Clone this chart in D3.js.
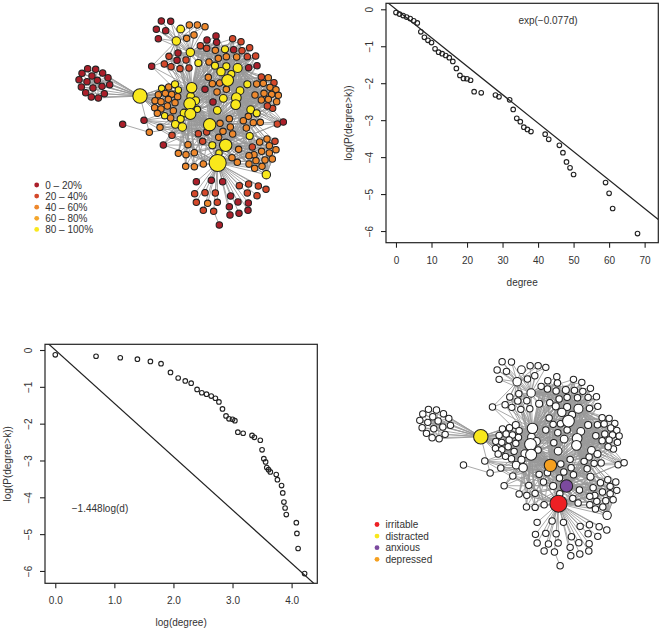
<!DOCTYPE html>
<html>
<head>
<meta charset="utf-8">
<style>
    body { margin: 0; background: #fff; }
    text { font-family: "Liberation Sans", Arial, sans-serif; fill: #333; }
</style>
<script src="https://cdn.jsdelivr.net/npm/d3@7"></script>
</head>
<body>
<div id="chart"></div>
<script>
// Degree distribution
const degree = [0, 1, 2, 3, 4, 5, 6, 7, 8, 9, 10, 11, 12, 13, 14, 15, 16, 17, 18, 19, 20, 21, 22, 24, 28, 29, 32, 33, 34, 35, 36, 37, 38, 42, 43, 46, 47, 48, 49, 50, 59, 60, 61, 68];
const logP = [-0.09, -0.13, -0.17, -0.21, -0.25, -0.31, -0.37, -0.61, -0.76, -0.84, -0.90, -1.07, -1.16, -1.20, -1.25, -1.31, -1.41, -1.60, -1.79, -1.87, -1.88, -1.92, -2.23, -2.26, -2.32, -2.37, -2.45, -2.71, -2.95, -3.04, -3.19, -3.25, -3.31, -3.38, -3.52, -3.68, -3.88, -4.13, -4.29, -4.47, -4.69, -4.98, -5.39, -6.07];
const logDegree = [0, 0.69, 1.10, 1.39, 1.61, 1.79, 1.95, 2.08, 2.20, 2.30, 2.40, 2.48, 2.56, 2.64, 2.71, 2.77, 2.83, 2.89, 2.94, 3.00, 3.04, 3.09, 3.18, 3.33, 3.37, 3.47, 3.50, 3.53, 3.56, 3.58, 3.61, 3.64, 3.74, 3.76, 3.83, 3.85, 3.87, 3.89, 3.91, 4.08, 4.09, 4.11, 4.22];
const expTicks = [0, 10, 20, 30, 40, 50, 60, 70];
const logTicks = [0, 1, 2, 3, 4];
const yTicks = [0, -1, -2, -3, -4, -5, -6];
const expSlope = -0.077;
const logSlope = -1.448;

// Network layout. Rows are [layoutX, layoutY, size, band]
const hubs = [
    [240, 288, 21, 4], [473, 489, 25, 4], [497, 436, 18, 4], [449, 374, 18, 4],
    [503, 241, 17, 4], [389, 311, 17, 4], [391, 342, 16, 4], [395, 263, 15, 4],
    [529, 293, 14, 4], [527, 314, 14, 4], [533, 204, 13, 4], [349, 123, 12, 4],
    [391, 157, 12, 4], [619, 524, 12, 4], [483, 215, 12, 4], [367, 381, 12, 4],
    [112, 241, 9, 0], [99, 264, 9, 0], [268, 397, 9, 2], [461, 634, 9, 1]
];
const leftCluster = [
    [83, 206, 9, 0], [66, 220, 9, 0], [57, 239, 9, 0], [64, 261, 9, 0], [77, 278, 9, 0], [94, 291, 9, 0],
    [115, 294, 9, 0], [133, 281, 9, 0], [149, 254, 9, 0], [144, 233, 9, 0], [128, 219, 9, 0], [107, 208, 9, 0],
    [96, 228, 9, 0], [81, 245, 9, 0], [126, 259, 9, 0]
];
const topOuter = [
    [304, 63, 9, 0], [332, 64, 9, 0], [289, 88, 9, 0], [317, 92, 9, 0], [295, 116, 9, 0], [362, 87, 11, 4],
    [388, 75, 9, 2], [412, 75, 9, 2], [435, 80, 9, 2], [380, 115, 9, 2], [402, 105, 9, 2]
];
const topLeft = [
    [354, 159, 9, 0], [327, 169, 9, 1], [351, 181, 9, 0], [378, 180, 9, 1], [313, 192, 9, 1], [275, 199, 9, 0],
    [333, 200, 9, 1], [360, 206, 9, 1], [387, 204, 9, 1], [415, 189, 10, 4]
];
const topRight = [
    [421, 137, 9, 1], [441, 120, 9, 0], [468, 108, 9, 0], [470, 127, 9, 0], [518, 116, 9, 1], [543, 125, 9, 1],
    [440, 145, 9, 1], [466, 151, 9, 2], [495, 148, 10, 4], [521, 149, 9, 0], [546, 152, 9, 1], [569, 143, 9, 1],
    [587, 168, 9, 1], [562, 170, 9, 1], [530, 171, 9, 2], [499, 170, 9, 2], [475, 175, 9, 2], [447, 186, 9, 2],
    [591, 197, 9, 0], [566, 203, 9, 0], [499, 199, 10, 4], [465, 197, 10, 4], [514, 222, 10, 4]
];
const middle = [
    [445, 232, 9, 2], [457, 251, 9, 2], [479, 249, 9, 2], [499, 268, 9, 2], [471, 276, 9, 2], [435, 268, 9, 0],
    [562, 253, 10, 4], [540, 272, 11, 4], [490, 295, 11, 4], [459, 306, 9, 0], [472, 331, 11, 4], [392, 289, 11, 4],
    [407, 302, 11, 4], [412, 328, 9, 4], [372, 339, 11, 4]
];
const leftOrange = [
    [305, 265, 9, 4], [326, 261, 9, 2], [345, 253, 10, 4], [295, 284, 9, 2], [316, 280, 9, 2], [335, 283, 9, 2],
    [355, 270, 9, 4], [353, 290, 9, 2], [285, 302, 9, 2], [303, 305, 9, 2], [325, 298, 9, 2], [345, 308, 9, 2],
    [284, 323, 9, 2], [303, 327, 9, 2], [322, 318, 9, 2], [340, 332, 9, 2], [292, 340, 9, 2], [314, 347, 9, 4],
    [332, 354, 9, 2], [362, 357, 10, 4], [346, 373, 11, 4]
];
const rightCluster = [
    [604, 231, 9, 1], [625, 233, 9, 2], [642, 248, 9, 1], [590, 252, 9, 2], [610, 250, 9, 2], [630, 262, 9, 2],
    [648, 269, 9, 2], [655, 286, 9, 2], [585, 285, 9, 2], [612, 280, 9, 2], [635, 283, 9, 2], [650, 305, 9, 2],
    [604, 300, 9, 2], [625, 298, 9, 2], [638, 325, 9, 1], [622, 318, 9, 1], [572, 329, 11, 4], [590, 340, 10, 4],
    [565, 349, 9, 2], [550, 362, 9, 2], [580, 368, 9, 2], [601, 367, 9, 2], [559, 384, 9, 2], [652, 372, 9, 1],
    [670, 366, 9, 0]
];
const midLow = [
    [508, 356, 9, 2], [480, 370, 9, 2], [511, 381, 9, 2], [518, 402, 9, 2], [489, 394, 9, 2], [476, 412, 9, 2],
    [569, 408, 10, 4], [415, 401, 9, 1], [440, 396, 9, 1], [428, 424, 9, 1], [384, 434, 9, 2], [336, 406, 9, 1],
    [310, 435, 9, 0], [457, 436, 10, 4], [477, 459, 9, 4], [536, 448, 9, 2], [516, 473, 9, 2], [532, 487, 9, 2],
    [355, 460, 9, 2], [378, 464, 9, 2], [403, 458, 9, 2], [377, 499, 9, 2], [403, 500, 9, 2], [430, 492, 9, 2],
    [300, 382, 9, 2], [252, 361, 9, 0]
];
const lowerRight = [
    [621, 417, 9, 2], [599, 426, 9, 2], [577, 441, 9, 1], [628, 437, 9, 2], [645, 424, 9, 1], [648, 449, 9, 2],
    [605, 454, 9, 2], [628, 459, 9, 2], [582, 464, 9, 2], [567, 467, 9, 2], [637, 477, 9, 2], [615, 480, 9, 2],
    [588, 482, 9, 2], [567, 492, 9, 2], [606, 499, 9, 2], [584, 505, 9, 2]
];
const bottom = [
    [409, 545, 9, 0], [454, 541, 9, 0], [488, 545, 9, 0], [538, 557, 9, 1], [566, 552, 9, 1], [595, 558, 9, 1],
    [618, 568, 9, 1], [562, 579, 9, 1], [591, 587, 9, 1], [404, 581, 9, 1], [435, 578, 9, 1], [466, 579, 9, 1],
    [409, 607, 9, 1], [443, 610, 9, 2], [472, 607, 9, 1], [430, 631, 9, 1], [512, 588, 9, 0], [534, 606, 9, 0],
    [565, 609, 9, 0], [508, 620, 9, 0], [537, 640, 9, 0], [564, 631, 9, 0], [510, 645, 9, 0]
];
const tail = [[478, 675, 9, 0]];
const outlier = [[188, 373, 9, 0]];

// Which hub fans out to which groups. Rows are [hub index, groups]
const hubLinks = [
    [0, [leftCluster, leftOrange]],
    [1, [bottom, midLow, lowerRight]],
    [2, [lowerRight, midLow, rightCluster, middle]],
    [3, [leftOrange, middle, midLow, lowerRight, rightCluster, topRight]],
    [4, [topRight, middle, rightCluster]],
    [5, [leftOrange, topLeft, middle, topRight, midLow]],
    [6, [leftOrange, midLow, middle]],
    [7, [topLeft, leftOrange, topRight, middle]],
    [8, [rightCluster, topRight, middle]],
    [9, [rightCluster, lowerRight]],
    [10, [topRight, rightCluster]],
    [11, [topOuter, topLeft]],
    [12, [topOuter, topLeft, topRight]],
    [13, [lowerRight]],
    [14, [topRight]],
    [15, [leftOrange, midLow]],
    [16, [leftCluster]],
    [17, [leftCluster]],
    [18, [outlier]],
    [19, [tail]]
];
// Hub pairs that are joined directly
const hubPairs = [[0, 5], [0, 6], [0, 7], [1, 2], [1, 3], [2, 3], [3, 5], [3, 6], [5, 6], [5, 7], [3, 9], [4, 8], [4, 14], [10, 14], [1, 13], [0, 18], [15, 18], [1, 19], [5, 11], [7, 12], [12, 14]];

const bandLabels = ['0 \u2013 20%', '20 \u2013 40%', '40 \u2013 60%', '60 \u2013 80%', '80 \u2013 100%'];
const bandColors = ['#ab1f2a', '#d4482a', '#ee882c', '#f4a62c', '#f9e81c'];
const symptomLabels = ['irritable', 'distracted', 'anxious', 'depressed'];
const symptomColors = ['#ed2024', '#f8e71c', '#7b4a9e', '#f5a020'];
// Hub that carries each symptom, same order as symptomLabels
const symptomHubs = [1, 0, 2, 3];

const width = 662,
    height = 631;

const svg = d3.select('#chart')
    .append('svg')
    .attr('width', width)
    .attr('height', height);

const allNodes = [leftCluster, topOuter, topLeft, topRight, middle, leftOrange, rightCluster, midLow, lowerRight, bottom, tail, outlier, hubs];

function getEdges() {
    let edges = [];
    for (const [hubIndex, groups] of hubLinks) {
        for (const group of groups) {
            for (const node of group) {
                edges.push([hubs[hubIndex], node]);
            }
        }
    }
    for (const [a, b] of hubPairs) {
        edges.push([hubs[a], hubs[b]]);
    }
    return edges;
}

function drawNetwork(left, top, fillFor) {
    // Layout units are 3 to a pixel
    let x = d3.scaleLinear().domain([0, 720]).range([left, left + 240]);
    let y = d3.scaleLinear().domain([0, 720]).range([top, top + 240]);
    let r = d3.scaleLinear().domain([0, 30]).range([0.2, 10.2]);

    let g = svg.append('g');

    g.selectAll('line')
        .data(getEdges())
        .enter()
        .append('line')
        .attr('x1', d => x(d[0][0]))
        .attr('y1', d => y(d[0][1]))
        .attr('x2', d => x(d[1][0]))
        .attr('y2', d => y(d[1][1]))
        .style('stroke', '#999')
        .style('stroke-width', 0.85);

    g.selectAll('circle')
        .data(allNodes.flat())
        .enter()
        .append('circle')
        .attr('cx', d => x(d[0]))
        .attr('cy', d => y(d[1]))
        .attr('r', d => r(d[2]))
        .style('fill', fillFor)
        .style('stroke', '#222')
        .style('stroke-width', 1.05);
}

function drawLegend(labels, colors, dotX, rowY) {
    let row = svg.append('g')
        .selectAll('g')
        .data(labels)
        .enter()
        .append('g')
        .attr('transform', (d, i) => 'translate(' + dotX + ',' + rowY(i) + ')');

    row.append('circle')
        .attr('r', 2.4)
        .style('fill', (d, i) => colors[i]);

    row.append('text')
        .attr('x', 8.5)
        .attr('dy', '0.36em')
        .style('font-size', '10px')
        .text(d => d);
}

function drawPlot(opts) {
    let x = d3.scaleLinear().domain(opts.xDomain).range([opts.left, opts.right]);
    let y = d3.scaleLinear().domain(opts.yDomain).range([opts.top, opts.bottom]);

    let g = svg.append('g');

    g.append('clipPath')
        .attr('id', opts.id)
        .append('rect')
        .attr('x', opts.left)
        .attr('y', opts.top)
        .attr('width', opts.right - opts.left)
        .attr('height', opts.bottom - opts.top);

    // Fitted line
    g.append('path')
        .datum(opts.xDomain)
        .attr('clip-path', 'url(#' + opts.id + ')')
        .attr('d', d3.line().x(d => x(d)).y(d => y(opts.slope * d)))
        .style('fill', 'none')
        .style('stroke', '#222')
        .style('stroke-width', 1.2);

    g.selectAll('circle')
        .data(opts.xs)
        .enter()
        .append('circle')
        .attr('cx', d => x(d))
        .attr('cy', (d, i) => y(opts.ys[i]))
        .attr('r', 2.3)
        .style('fill', 'none')
        .style('stroke', '#222')
        .style('stroke-width', 1.1);

    g.append('rect')
        .attr('x', opts.left)
        .attr('y', opts.top)
        .attr('width', opts.right - opts.left)
        .attr('height', opts.bottom - opts.top)
        .style('fill', 'none')
        .style('stroke', '#222')
        .style('stroke-width', 1.2);

    let xAxis = g.append('g')
        .attr('transform', 'translate(0,' + opts.bottom + ')')
        .call(d3.axisBottom(x).tickValues(opts.xTicks).tickSize(5).tickPadding(9));

    let yAxis = g.append('g')
        .attr('transform', 'translate(' + opts.left + ',0)')
        .call(d3.axisLeft(y).tickValues(yTicks).tickSize(5).tickFormat(d3.format('d')));

    // R keeps the y tick labels turned with the axis
    yAxis.selectAll('text')
        .attr('x', null)
        .attr('dy', null)
        .attr('text-anchor', 'middle')
        .attr('transform', 'translate(-13,0) rotate(-90)');

    for (const axis of [xAxis, yAxis]) {
        axis.selectAll('.tick line').style('stroke', '#222').style('stroke-width', 1.1);
        axis.selectAll('.domain').remove();
        axis.selectAll('text').style('font-size', '10px').style('font-family', null);
    }

    g.append('text')
        .attr('x', (opts.left + opts.right) / 2)
        .attr('y', opts.bottom + 43)
        .attr('text-anchor', 'middle')
        .style('font-size', '10px')
        .text(opts.xLabel);

    g.append('text')
        .attr('transform', 'translate(' + (opts.left - 34) + ',' + ((opts.top + opts.bottom) / 2) + ') rotate(-90)')
        .attr('text-anchor', 'middle')
        .style('font-size', '10px')
        .text('log(P(degree>k))');

    g.append('text')
        .attr('x', opts.noteX)
        .attr('y', opts.noteY)
        .attr('dy', '0.36em')
        .attr('text-anchor', 'middle')
        .style('font-size', '10px')
        .text(opts.note);
}

// Top left: degree percentile network
drawNetwork(60, 0, d => bandColors[d[3]]);
drawLegend(bandLabels, bandColors, 36.7, i => 185 + i * 11.1);

// Bottom right: the four symptoms, everything else is white
drawNetwork(400.8, 340.7, d => {
    let i = symptomHubs.findIndex(h => hubs[h] === d);
    return i < 0 ? '#fff' : symptomColors[i];
});
drawLegend(symptomLabels, symptomColors, 377, i => 524.5 + i * 11.6);

drawPlot({
    id: 'clip-exp',
    left: 386, right: 658.3, top: 3.3, bottom: 242.7,
    xDomain: [-2.81, 73.85], yDomain: [0.162, -6.316],
    xs: degree, ys: logP,
    xTicks: expTicks, slope: expSlope,
    xLabel: 'degree',
    note: 'exp(\u22120.077d)', noteX: 548, noteY: 20
});

drawPlot({
    id: 'clip-log',
    left: 45, right: 317.3, top: 344.3, bottom: 583.3,
    xDomain: [-0.174, 4.435], yDomain: [0.155, -6.335],
    xs: logDegree, ys: logP.slice(1),
    xTicks: logTicks, slope: logSlope,
    xLabel: 'log(degree)',
    note: '\u22121.448log(d)', noteX: 100, noteY: 508
});
</script>
</body>
</html>
